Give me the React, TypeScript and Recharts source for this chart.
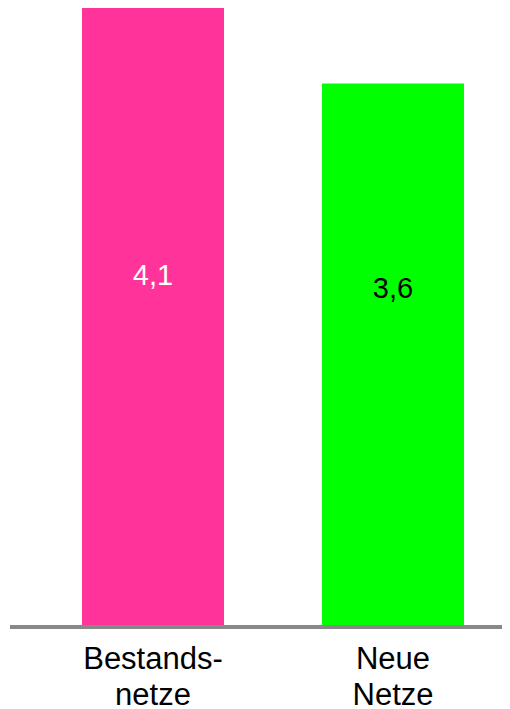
import React from "react";
import { BarChart, Bar, XAxis, YAxis, Cell, LabelList } from "recharts";

// Categories, split onto two lines under the axis
const categories = ["Bestandsnetze", "Neue Netze"];
const categoryLines = [
  ["Bestands-", "netze"],
  ["Neue", "Netze"],
];
const values = [4.1, 3.6];
const barColors = ["#ff3399", "#00ff00"];
const labelColors = ["#ffffff", "#000000"];
// where the value label sits inside each bar, as a share of the bar height
const labelPos = [0.447, 0.395];

const data = categories.map((name, i) => ({ name, value: values[i] }));

const FONT = "'Liberation Sans', Arial, Helvetica, sans-serif";

function CategoryTick(props: any) {
  const { x, y, index } = props;
  const lines = categoryLines[index] || [];
  return (
    <text x={x} y={y} textAnchor="middle" fill="#000" fontSize={31} fontFamily={FONT}>
      {lines.map((l, i) => (
        <tspan key={i} x={x} dy={i === 0 ? 42 : 36}>
          {l}
        </tspan>
      ))}
    </text>
  );
}

function ValueLabel(props: any) {
  const { x, y, width, height, index, value } = props;
  const cx = x + width / 2;
  const cy = y + height * labelPos[index];
  return (
    <text x={cx} y={cy} textAnchor="middle" fill={labelColors[index]} fontSize={29} fontFamily={FONT}>
      {String(value).replace(".", ",")}
    </text>
  );
}

export default function App() {
  return (
    <div style={{ width: 502, height: 701, overflow: "hidden" }}>
      <BarChart
        width={505}
        height={701}
        data={data}
        margin={{ top: 0, right: 0, left: 2, bottom: 0 }}
        barCategoryGap={49}
      >
        <YAxis hide domain={[0, 4.1]} />
        <XAxis
          dataKey="name"
          height={82}
          padding={{ left: 23, right: 0 }}
          axisLine={{ stroke: "#888888", strokeWidth: 4 }}
          tickLine={false}
          tickSize={0}
          tickMargin={0}
          interval={0}
          tick={<CategoryTick />}
        />
        <Bar dataKey="value" isAnimationActive={false}>
          {data.map((d, i) => (
            <Cell key={d.name} fill={barColors[i]} />
          ))}
          <LabelList dataKey="value" content={<ValueLabel />} />
        </Bar>
      </BarChart>
    </div>
  );
}
